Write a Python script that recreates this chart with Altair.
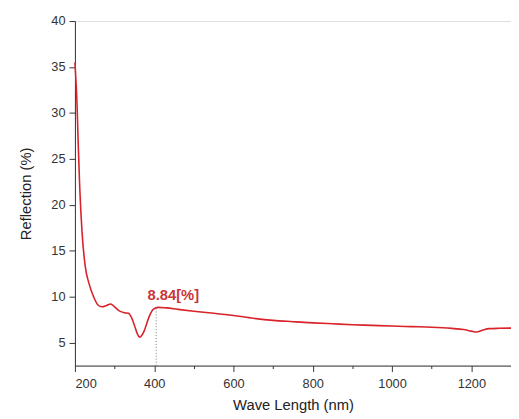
import altair as alt
import pandas as pd

wavelength = [200, 202, 205, 208, 212, 218, 226, 235, 247, 258, 268, 280, 290, 300, 312, 325, 335,
              342, 350, 357, 363, 368, 375, 382, 390, 398, 410, 430, 460, 500, 550, 600, 650, 700,
              750, 800, 850, 900, 950, 1000, 1050, 1100, 1150, 1180, 1200, 1213, 1228, 1245, 1270, 1300]
reflection = [35.5, 34.0, 31.3, 27.0, 22.0, 17.0, 13.3, 11.5, 10.0, 9.1, 8.9, 9.05, 9.2, 8.9, 8.45, 8.25, 8.2,
              7.8, 6.9, 6.0, 5.6, 5.75, 6.3, 7.2, 8.1, 8.65, 8.84, 8.78, 8.62, 8.42, 8.2, 7.95, 7.65, 7.42,
              7.28, 7.15, 7.05, 6.95, 6.88, 6.8, 6.74, 6.68, 6.55, 6.42, 6.25, 6.15, 6.35, 6.52, 6.56, 6.58]

peak_x = [405]
peak_y = [8.84]
peak_label = ["8.84[%]"]
y_floor = [2.5]

x_ticks = [200, 300, 400, 500, 600, 700, 800, 900, 1000, 1100, 1200, 1300]
y_ticks = [5, 7.5, 10, 12.5, 15, 17.5, 20, 22.5, 25, 27.5, 30, 32.5, 35, 37.5, 40]

df = pd.DataFrame({"wl": wavelength, "r": reflection})
peak = pd.DataFrame({"wl": peak_x, "r": peak_y, "r0": y_floor, "label": peak_label,
                     "tx": [383], "ty": [10.15]})

xscale = alt.Scale(domain=[200, 1300], nice=False, zero=False)
yscale = alt.Scale(domain=[2.5, 40], nice=False, zero=False)

common = dict(
    grid=False, labelFontSize=13, titleFontSize=15, titleFontWeight="normal",
    labelColor="#333333", titleColor="#222222", domainColor="#333333", tickColor="#333333",
    labelFont="Liberation Sans", titleFont="Liberation Sans", format="d",
)

xaxis = alt.Axis(
    values=x_ticks, title="Wave Length (nm)",
    labelExpr="datum.value % 200 == 0 ? datum.label : ''",
    tickSize={"condition": {"test": "datum.value % 200 == 0", "value": 6}, "value": 3},
    labelPadding=6, titlePadding=8, **common,
)
yaxis = alt.Axis(
    values=y_ticks, title="Reflection (%)",
    labelExpr="datum.value % 5 == 0 ? datum.label : ''",
    tickSize={"condition": {"test": "datum.value % 5 == 0", "value": 6}, "value": 3},
    labelPadding=4, titlePadding=18, **common,
)

line = alt.Chart(df).mark_line(color="#d92229", strokeWidth=1.6, interpolate="monotone").encode(
    x=alt.X("wl:Q", scale=xscale, axis=xaxis),
    y=alt.Y("r:Q", scale=yscale, axis=yaxis),
)

drop = alt.Chart(peak).mark_rule(color="#777777", strokeDash=[1, 2], strokeWidth=1).encode(
    x="wl:Q", y="r0:Q", y2="r:Q"
)

label = alt.Chart(peak).mark_text(
    align="left", baseline="middle", fontSize=15, fontWeight="bold",
    color="#c8363a", font="Liberation Sans"
).encode(x="tx:Q", y="ty:Q", text="label:N")

chart = alt.layer(line, drop, label).properties(
    width=443, height=350,
    autosize=alt.AutoSizeParams(type="none"),
    padding={"left": 68, "top": 10, "right": 0, "bottom": 52},
).configure_view(stroke=None).configure(background="white")

chart.save("out.html", embed_options={"renderer": "svg", "actions": False})
